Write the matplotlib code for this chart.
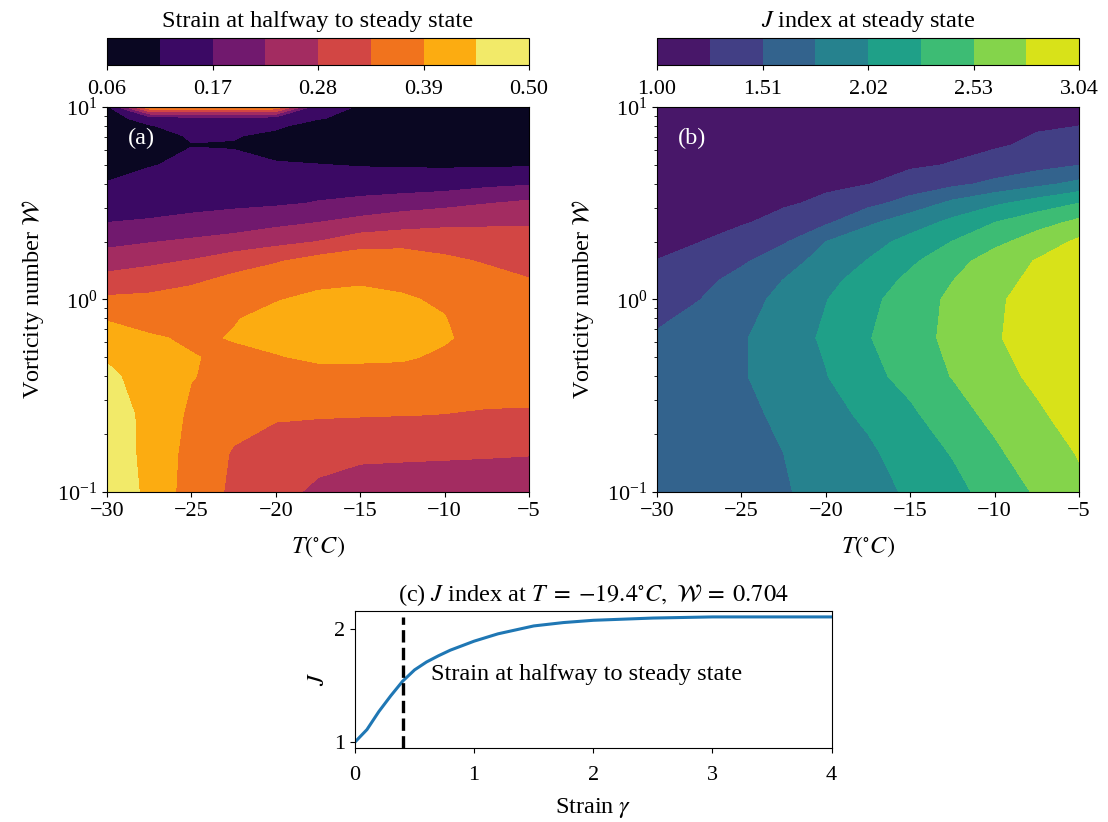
import numpy as np
import matplotlib as mpl
mpl.use("Agg")
import matplotlib.pyplot as plt

mpl.rcParams.update({
    "font.family": "serif",
    "font.serif": ["Liberation Serif", "DejaVu Serif"],
    "mathtext.fontset": "stix",
    "font.size": 17.5,
    "xtick.labelsize": 16,
    "ytick.labelsize": 16,
})

# temperature grid (deg C), shared by both maps
temp_c = [-30, -27.5, -25, -22.5, -20, -17.5, -15, -12.5, -10, -7.5, -5]

# (a) strain at halfway to steady state, rows = log10(W)
log_w_a = [-1.0, -0.8, -0.6, -0.4, -0.3, -0.2, -0.1, 0.0, 0.1, 0.2, 0.3, 0.4, 0.5, 0.6,
           0.7, 0.8, 0.85, 0.9, 0.94, 1.0]
strain_half = [
    [0.500, 0.428, 0.3675, 0.325, 0.293, 0.272, 0.255, 0.252, 0.250, 0.247, 0.245],
    [0.490, 0.424, 0.374, 0.330, 0.300, 0.297, 0.292, 0.290, 0.288, 0.286, 0.283],
    [0.480, 0.427, 0.381, 0.360, 0.345, 0.340, 0.338, 0.336, 0.334, 0.331, 0.330],
    [0.455, 0.425, 0.392, 0.375, 0.380, 0.380, 0.380, 0.378, 0.370, 0.360, 0.360],
    [0.440, 0.410, 0.392, 0.383, 0.388, 0.395, 0.395, 0.394, 0.384, 0.368, 0.365],
    [0.420, 0.395, 0.384, 0.392, 0.400, 0.405, 0.405, 0.400, 0.394, 0.375, 0.370],
    [0.385, 0.372, 0.375, 0.388, 0.400, 0.408, 0.408, 0.402, 0.391, 0.372, 0.362],
    [0.343, 0.347, 0.360, 0.383, 0.388, 0.398, 0.400, 0.393, 0.386, 0.365, 0.352],
    [0.300, 0.308, 0.324, 0.350, 0.365, 0.380, 0.385, 0.383, 0.370, 0.352, 0.337],
    [0.250, 0.268, 0.283, 0.305, 0.330, 0.355, 0.370, 0.369, 0.346, 0.330, 0.318],
    [0.211, 0.222, 0.234, 0.248, 0.262, 0.281, 0.308, 0.3125, 0.309, 0.303, 0.298],
    [0.170, 0.174, 0.180, 0.190, 0.210, 0.225, 0.241, 0.257, 0.2675, 0.272, 0.275],
    [0.145, 0.152, 0.158, 0.160, 0.162, 0.173, 0.186, 0.197, 0.208, 0.223, 0.235],
    [0.117, 0.131, 0.140, 0.145, 0.150, 0.145, 0.137, 0.139, 0.143, 0.156, 0.165],
    [0.100, 0.112, 0.125, 0.122, 0.118, 0.116, 0.112, 0.110, 0.108, 0.108, 0.108],
    [0.080, 0.095, 0.114, 0.113, 0.100, 0.085, 0.075, 0.070, 0.066, 0.063, 0.062],
    [0.085, 0.103, 0.118, 0.117, 0.108, 0.092, 0.082, 0.078, 0.073, 0.070, 0.070],
    [0.090, 0.112, 0.130, 0.128, 0.120, 0.100, 0.090, 0.085, 0.080, 0.078, 0.077],
    [0.100, 0.130, 0.145, 0.145, 0.140, 0.117, 0.105, 0.095, 0.090, 0.088, 0.088],
    [0.100, 0.385, 0.385, 0.385, 0.380, 0.120, 0.114, 0.100, 0.090, 0.090, 0.090],
]

# (b) J index at steady state
log_w_b = [-1.0, -0.8, -0.6, -0.4, -0.2, 0.0, 0.1, 0.2, 0.3, 0.4, 0.5, 0.6, 0.7, 0.8, 1.0]
j_steady = [
    [1.56, 1.62, 1.68, 1.745, 1.84, 1.94, 2.05, 2.20, 2.37, 2.56, 2.74],
    [1.58, 1.64, 1.70, 1.765, 1.86, 1.98, 2.12, 2.29, 2.49, 2.65, 2.80],
    [1.60, 1.66, 1.72, 1.80, 1.93, 2.07, 2.23, 2.42, 2.60, 2.75, 2.88],
    [1.62, 1.68, 1.745, 1.87, 2.01, 2.19, 2.37, 2.54, 2.69, 2.84, 2.97],
    [1.535, 1.63, 1.74, 1.89, 2.06, 2.26, 2.43, 2.59, 2.755, 2.92, 3.04],
    [1.40, 1.505, 1.67, 1.83, 2.01, 2.21, 2.40, 2.58, 2.74, 2.90, 3.00],
    [1.33, 1.44, 1.59, 1.77, 1.94, 2.14, 2.33, 2.525, 2.69, 2.85, 2.96],
    [1.26, 1.365, 1.47, 1.66, 1.86, 2.03, 2.23, 2.44, 2.64, 2.80, 2.90],
    [1.19, 1.25, 1.37, 1.48, 1.765, 1.925, 2.095, 2.28, 2.465, 2.645, 2.83],
    [1.12, 1.17, 1.23, 1.336, 1.47, 1.72, 1.90, 2.08, 2.275, 2.43, 2.59],
    [1.09, 1.13, 1.17, 1.225, 1.30, 1.435, 1.61, 1.82, 1.975, 2.125, 2.275],
    [1.06, 1.09, 1.12, 1.16, 1.21, 1.25, 1.34, 1.45, 1.57, 1.70, 1.83],
    [1.04, 1.06, 1.085, 1.11, 1.15, 1.19, 1.225, 1.265, 1.33, 1.41, 1.50],
    [1.02, 1.03, 1.05, 1.07, 1.10, 1.13, 1.16, 1.20, 1.235, 1.29, 1.30],
    [1.00, 1.01, 1.02, 1.03, 1.05, 1.07, 1.09, 1.11, 1.14, 1.17, 1.20],
]

# (c) J vs strain at T=-19.4, W=0.704
gamma = [0, 0.1, 0.2, 0.3, 0.4, 0.5, 0.6, 0.7, 0.8, 1.0, 1.2, 1.5, 1.75, 2.0, 2.5, 3.0, 3.5, 4.0]
j_gamma = [1.0, 1.11, 1.27, 1.41, 1.54, 1.64, 1.71, 1.765, 1.815, 1.895, 1.96, 2.03, 2.06, 2.08,
           2.10, 2.11, 2.11, 2.11]
gamma_half = 0.4

strain_levels = np.linspace(0.06, 0.50, 9)
j_levels = np.linspace(1.00, 3.04, 9)

fig = plt.figure(figsize=(11.08, 8.22), dpi=100)
ax_a = fig.add_axes([0.0966, 0.4015, 0.3809, 0.4684])
ax_b = fig.add_axes([0.593, 0.4015, 0.3809, 0.4684])
cax_a = fig.add_axes([0.0966, 0.9209, 0.3809, 0.0325])
cax_b = fig.add_axes([0.593, 0.9209, 0.3809, 0.0325])
ax_c = fig.add_axes([0.3204, 0.0897, 0.4302, 0.1674])

panels = [
    (ax_a, cax_a, log_w_a, strain_half, strain_levels, "inferno", "(a)",
     "Strain at halfway to steady state"),
    (ax_b, cax_b, log_w_b, j_steady, j_levels, "viridis", "(b)",
     r"$J$ index at steady state"),
]
for ax, cax, log_w, z, levels, cmap, tag, clabel in panels:
    w = 10.0 ** np.array(log_w)
    cs = ax.contourf(temp_c, w, np.array(z), levels=levels, cmap=cmap)
    ax.set_yscale("log")
    ax.set_xlim(-30, -5)
    ax.set_ylim(0.1, 10)
    ax.set_xticks([-30, -25, -20, -15, -10, -5])
    ax.set_xlabel(r"$T(^{\circ}C)$", labelpad=10)
    ax.set_ylabel(r"Vorticity number $\mathcal{W}$", labelpad=8)
    ax.text(0.05, 0.917, tag, transform=ax.transAxes, color="white", va="center")
    cb = fig.colorbar(cs, cax=cax, orientation="horizontal", ticks=levels[::2])
    cb.ax.set_xticklabels([f"{v:.2f}" for v in levels[::2]])
    cb.ax.xaxis.set_ticks_position("bottom")
    cb.ax.xaxis.set_label_position("top")
    cb.ax.tick_params(axis="x", pad=7)
    cb.set_label(clabel, labelpad=8)

ax_c.plot(gamma, j_gamma, color="tab:blue", lw=2.2)
ax_c.set_xlim(0, 4)
ylo, yhi = ax_c.get_ylim()
ax_c.vlines(gamma_half, ylo, max(j_gamma), colors="k", linestyles="--", lw=2.4)
ax_c.set_ylim(ylo, yhi)
ax_c.set_yticks([1, 2])
ax_c.tick_params(axis="x", pad=9)
ax_c.text(0.64, 1.6, "Strain at halfway to steady state", va="center")
ax_c.set_title(r"(c) $J$ index at $T\;=\;{-}19.4^{\circ}C,\ \mathcal{W}\;=\;0.704$",
               fontsize=17.5, pad=7)
ax_c.set_xlabel(r"Strain $\gamma$", labelpad=8)
ax_c.set_ylabel(r"$J$")

fig.savefig("out.png", dpi=100)
